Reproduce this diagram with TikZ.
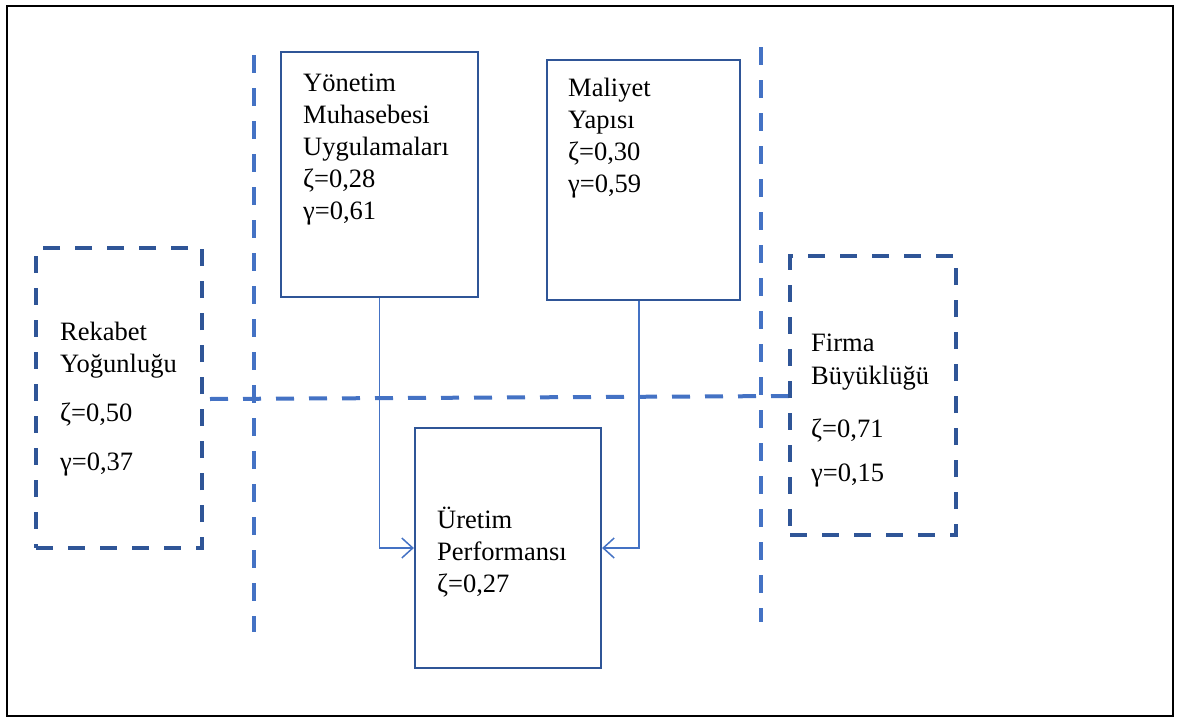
\documentclass[tikz,border=0pt]{standalone}
\usepackage{fontspec}
\setmainfont{Liberation Serif}
\usetikzlibrary{arrows.meta}
\definecolor{darkb}{HTML}{2F5597}
\definecolor{lightb}{HTML}{4472C4}
\tikzset{
  solidbox/.style={draw=darkb,line width=2.2pt,rectangle,inner sep=0pt},
  dashbox/.style={draw=darkb,line width=4pt,dash pattern=on 17pt off 15pt,rectangle,inner sep=0pt},
  divline/.style={draw=lightb,line width=4pt,dash pattern=on 18pt off 15pt},
  conn/.style={draw=lightb,line width=1.5pt,-{Straight Barb[length=11pt,width=20pt,line width=1.5pt]}},
  txt/.style={anchor=base west,inner sep=0pt,font=\fontsize{26.5}{32}\selectfont}
}
\begin{document}
\begin{tikzpicture}[x=1pt,y=-1pt]
\useasboundingbox (0,0) rectangle (1178,720);
\node[draw=black,line width=1.5pt,rectangle,minimum width=1166pt,minimum height=710pt,inner sep=0pt] (frame) at (590,361) {};
% divider dashed lines
\coordinate (v1a) at (254,55);  \coordinate (v1b) at (254,632);
\coordinate (v2a) at (761,47);  \coordinate (v2b) at (761,622);
\coordinate (h1a) at (210,399); \coordinate (h1b) at (790,396);
\draw[divline] (v1a) -- (v1b);
\draw[divline] (v2a) -- (v2b);
\draw[divline] (h1a) -- (h1b);
% boxes
\node[solidbox,minimum width=197pt,minimum height=245pt] (yon) at (379.5,174.5) {};
\node[solidbox,minimum width=193pt,minimum height=240pt] (mal) at (643.5,180) {};
\node[solidbox,minimum width=186pt,minimum height=240pt] (uret) at (508,548) {};
\node[dashbox,minimum width=166pt,minimum height=300pt] (rek) at (119,398) {};
\node[dashbox,minimum width=166pt,minimum height=279pt] (firma) at (873,395.5) {};
% texts
\node[txt] (yt1) at (303,91) {Yönetim};
\node[txt] (yt2) at (303,123) {Muhasebesi};
\node[txt] (yt3) at (303,155) {Uygulamaları};
\node[txt] (yt4) at (303,187) {ζ=0,28};
\node[txt] (yt5) at (303,219) {γ=0,61};
\node[txt] (mt1) at (568,96) {Maliyet};
\node[txt] (mt2) at (568,128) {Yapısı};
\node[txt] (mt3) at (568,160) {ζ=0,30};
\node[txt] (mt4) at (568,192) {γ=0,59};
\node[txt] (ut1) at (437,528) {Üretim};
\node[txt] (ut2) at (437,560) {Performansı};
\node[txt] (ut3) at (437,592) {ζ=0,27};
\node[txt] (rt1) at (60,340) {Rekabet};
\node[txt] (rt2) at (60,372) {Yoğunluğu};
\node[txt] (rt3) at (60,421) {ζ=0,50};
\node[txt] (rt4) at (60,470) {γ=0,37};
\node[txt] (ft1) at (811,351) {Firma};
\node[txt] (ft2) at (811,384) {Büyüklüğü};
\node[txt] (ft3) at (811,437) {ζ=0,71};
\node[txt] (ft4) at (811,481) {γ=0,15};
% connectors
\draw[conn] (yon.south) |- (uret.west);
\draw[conn] ([xshift=-4.5pt]mal.south) |- (uret.east);
\end{tikzpicture}
\end{document}
